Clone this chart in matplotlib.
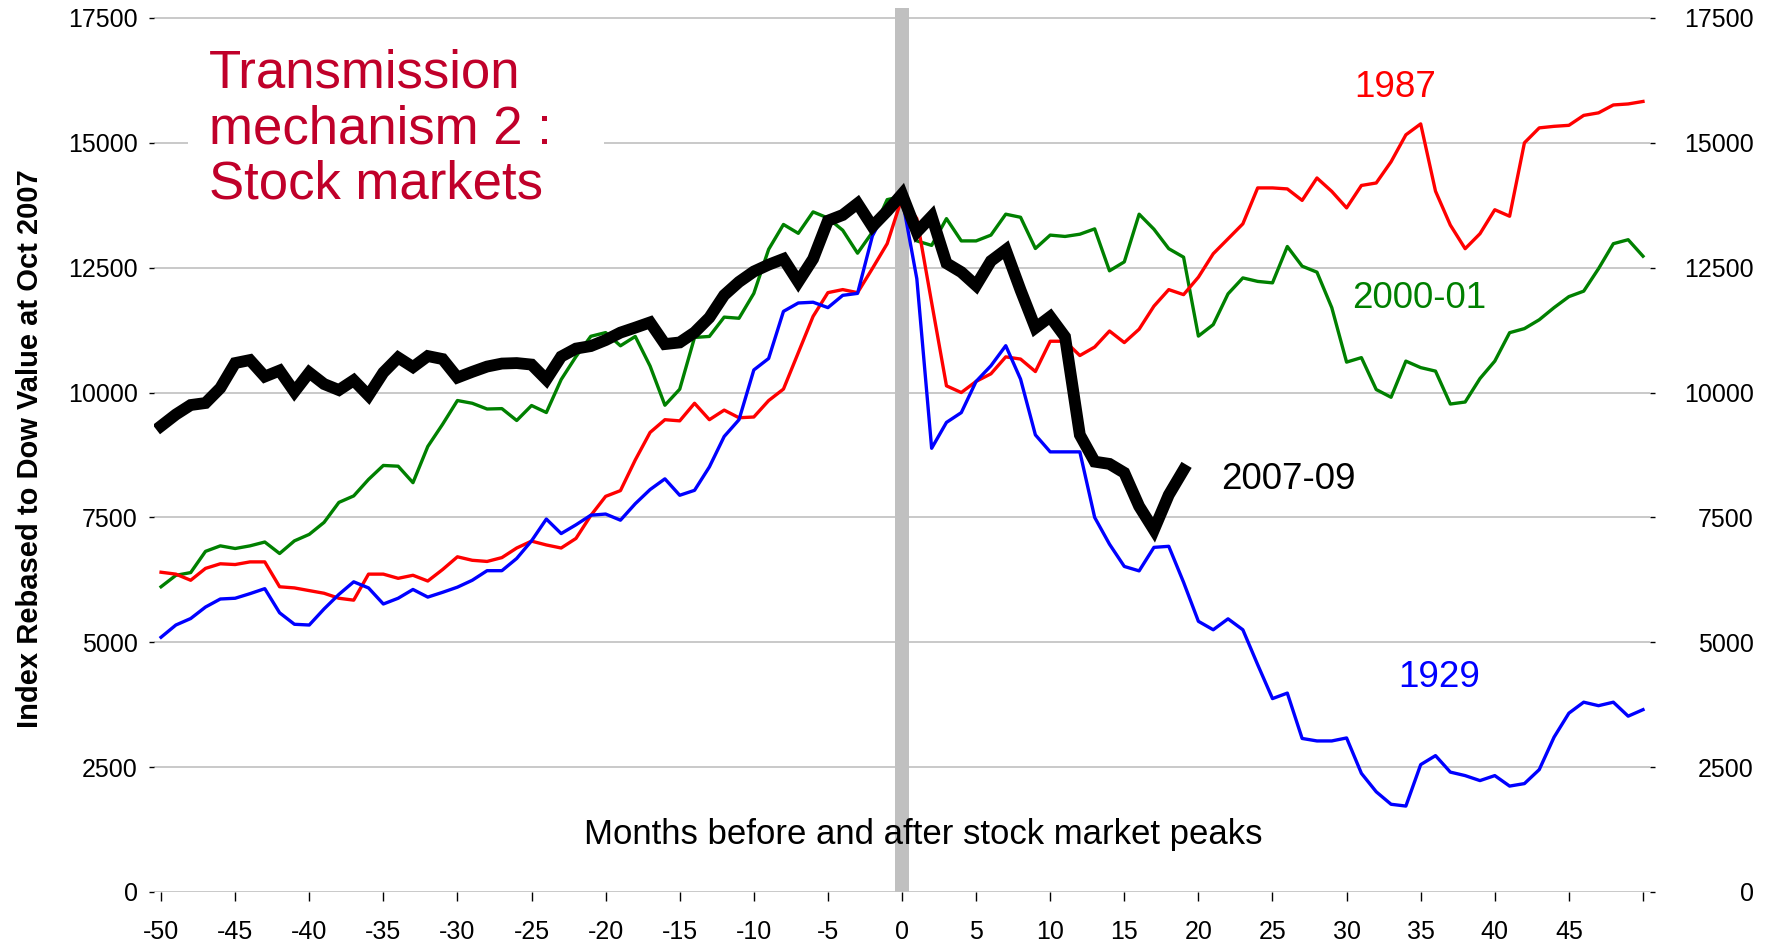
import matplotlib
matplotlib.use("Agg")
import matplotlib.pyplot as plt
from matplotlib.patches import Rectangle

months = list(range(-50, 51))
months_2007 = list(range(-50, 20))

dow_1929 = [5100, 5345, 5475, 5705, 5866, 5881, 5973, 6073, 5590, 5360,
            5345, 5667, 5958, 6210, 6088, 5766, 5881, 6057, 5904, 6000,
            6103, 6241, 6433, 6433, 6678, 7030, 7467, 7176, 7352, 7544,
            7567, 7444, 7774, 8057, 8272, 7943, 8042, 8510, 9120, 9456,
            10452, 10682, 11625, 11793, 11808, 11700, 11946, 11985, 13135, 13700,
            13900,
            12277, 8884, 9402, 9598, 10223, 10536, 10938, 10268, 9152, 8812,
            8812, 8812, 7500, 6964, 6518, 6429, 6900, 6921, 6200, 5419,
            5250, 5469, 5250, 4551, 3872, 3982, 3074, 3024, 3024, 3084,
            2375, 2006, 1756, 1720, 2550, 2730, 2400, 2330, 2230, 2330,
            2120, 2170, 2450, 3100, 3580, 3800, 3730, 3800, 3520, 3650]

dow_1987 = [6402, 6364, 6241, 6479, 6571, 6556, 6609, 6609, 6111, 6088,
            6034, 5981, 5881, 5843, 6364, 6364, 6280, 6341, 6226, 6456,
            6711, 6641, 6618, 6695, 6887, 7025, 6948, 6887, 7079, 7538,
            7921, 8036, 8650, 9201, 9456, 9433, 9785, 9456, 9648, 9495,
            9510, 9839, 10069, 10797, 11525, 12000, 12061, 12000, 12483, 12981,
            13900,
            13482, 11800, 10134, 10000, 10223, 10375, 10714, 10670, 10420, 11027,
            11027, 10741, 10911, 11232, 11000, 11268, 11730, 12061, 11960, 12310,
            12779, 13078, 13378, 14097, 14097, 14077, 13847, 14296, 14027, 13697,
            14146, 14196, 14620, 15160, 15379, 14032, 13353, 12880, 13180, 13660,
            13530, 15000, 15299, 15330, 15350, 15549, 15600, 15758, 15778, 15828]

dow_2000 = [6111, 6340, 6395, 6820, 6930, 6877, 6930, 7007, 6777, 7030,
            7160, 7400, 7800, 7930, 8260, 8540, 8525, 8195, 8920, 9365,
            9840, 9785, 9670, 9678, 9440, 9740, 9600, 10260, 10720, 11126,
            11200, 10936, 11123, 10530, 9746, 10067, 11103, 11123, 11510, 11487,
            11985, 12867, 13365, 13188, 13617, 13494, 13249, 12790, 13210, 13862,
            13929,
            13036, 12946, 13482, 13036, 13036, 13152, 13571, 13509, 12884, 13152,
            13125, 13170, 13277, 12437, 12616, 13571, 13270, 12880, 12710, 11130,
            11360, 11976, 12295, 12225, 12196, 12924, 12530, 12410, 11700, 10609,
            10699, 10060, 9905, 10629, 10499, 10429, 9770, 9810, 10280, 10629,
            11198, 11280, 11457, 11700, 11920, 12030, 12480, 12980, 13060, 12730]

dow_2007 = [9330, 9560, 9750, 9790, 10090, 10590, 10650, 10320, 10440, 10015,
            10400, 10170, 10050, 10245, 9940, 10400, 10700, 10510, 10730, 10670,
            10300, 10414, 10520, 10580, 10590, 10560, 10260, 10720, 10880, 10930,
            11050, 11200, 11300, 11404, 10970, 11003, 11203, 11500, 11950, 12215,
            12423, 12560, 12675, 12215, 12675, 13440, 13555, 13785, 13325, 13632,
            13973,
            13214, 13527, 12589, 12411, 12143, 12634, 12857, 12050, 11295, 11518,
            11116, 9152, 8616, 8571, 8393, 7723, 7250, 7950, 8450]

x_ticks = list(range(-50, 51, 5))
x_tick_labels = [str(t) for t in range(-50, 50, 5)] + [""]
y_ticks = list(range(0, 17501, 2500))

font = "Liberation Sans"
narrow = ["Liberation Sans Narrow", "Liberation Sans"]
title_red = "#C0002A"

fig = plt.figure(figsize=(17.69, 9.48), dpi=100)
ax = fig.add_axes([0.0871, 0.0591, 0.8456, 0.9325])

ax.axvspan(-0.5, 0.5, color="#C0C0C0", lw=0, zorder=1)

ax.plot(months, dow_2000, color="#008000", lw=2.4, zorder=3)
ax.plot(months, dow_1987, color="#FF0000", lw=2.4, zorder=3)
ax.plot(months, dow_1929, color="#0000FF", lw=2.4, zorder=3)
ax.plot(months_2007, dow_2007, color="black", lw=8.5, zorder=4,
        solid_joinstyle="miter")

ax.set_xlim(-50.47, 50.47)
ax.set_ylim(0, 17700)

ax.set_yticks(y_ticks)
ax.set_xticks(x_ticks)
ax.set_xticklabels(x_tick_labels)
ax.yaxis.grid(True, color="#C0C0C0", lw=1.2)
ax.set_axisbelow(True)
for s in ax.spines.values():
    s.set_visible(False)

ax.tick_params(axis="y", length=3.6, width=1, color="black", pad=8,
               labelsize=18)
ax.tick_params(axis="x", length=6.5, width=1, color="black", pad=14,
               labelsize=18)
for lbl in ax.get_xticklabels() + ax.get_yticklabels():
    lbl.set_family(narrow)

ax2 = ax.twinx()
ax2.set_ylim(ax.get_ylim())
ax2.set_yticks(y_ticks)
for s in ax2.spines.values():
    s.set_visible(False)
ax2.tick_params(axis="y", length=3.6, width=1, color="black", pad=71,
                labelsize=18)
for lbl in ax2.get_yticklabels():
    lbl.set_family(narrow)
    lbl.set_horizontalalignment("right")

# white box behind the heading
ax.add_patch(Rectangle((0.0227, 0.766), 0.278, 0.215, transform=ax.transAxes,
                       facecolor="white", edgecolor="none", zorder=2))
ax.text(0.0368, 0.9536, "Transmission\nmechanism 2 :\nStock markets",
        transform=ax.transAxes, ha="left", va="top", fontsize=38,
        color=title_red, family=font, linespacing=1.14, zorder=5)

ax.text(33.27, 16104, "1987", color="#FF0000", fontsize=26.5, family=font,
        ha="center", va="center")
ax.text(34.89, 11878, "2000-01", color="#008000", fontsize=26.5, family=font,
        ha="center", va="center")
ax.text(26.05, 8262, "2007-09", color="black", fontsize=26.5, family=font,
        ha="center", va="center")
ax.text(36.27, 4286, "1929", color="#0000FF", fontsize=26.5, family=font,
        ha="center", va="center")

ax.text(1.42, 1150, "Months before and after stock market peaks",
        fontsize=25, family=font, ha="center", va="center")

fig.text(30.5 / 1769, 1 - 449 / 948, "Index Rebased to Dow Value at Oct 2007",
         rotation=90, ha="center", va="center", fontsize=21,
         fontweight="bold", family=narrow)

fig.savefig("out.png", dpi=100)
